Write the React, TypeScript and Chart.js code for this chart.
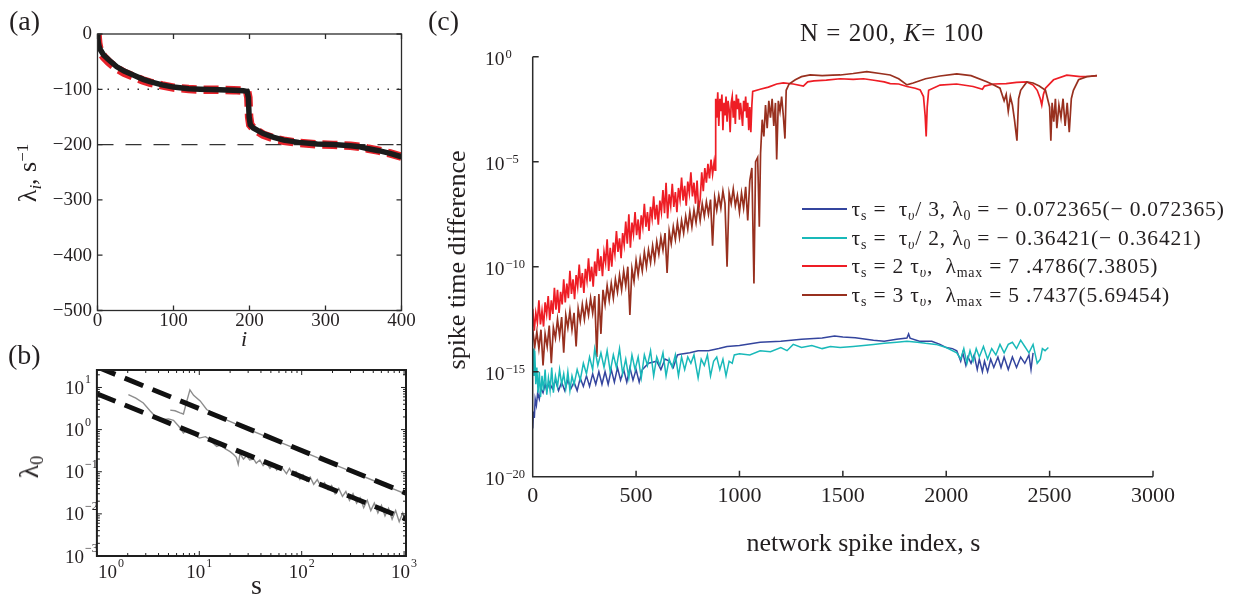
import React, { useEffect, useRef } from "react";
import { Chart, registerables } from "chart.js";
Chart.register(...registerables);

const W = 1237;
const H = 599;
const SERIF = '"Liberation Serif", "Times New Roman", Times, serif';
const INK = "#231f20";

// ---------------- panel (a) : eigenvalues ----------------
const aIndex = [0, 0.5, 1, 2, 4, 8, 15, 25, 35, 47, 60, 69, 85, 100, 120, 135, 160, 179, 192, 197, 198.5, 199.5, 201, 205, 218, 232, 245, 265, 289, 310, 333, 345, 355, 370, 385, 400];
const aNumeric = [0, -8, -15, -22, -29, -38, -47, -59, -67, -74, -82, -86, -92, -96, -99, -100, -101, -101.5, -102.5, -104, -115, -150, -164, -170, -180, -187, -192, -196, -199, -200, -202, -204, -207, -211, -216, -222];
const aTheory = [0, -9, -17, -24, -32, -41, -51, -62, -70, -77, -84, -88, -93, -97, -99.5, -100.5, -101, -101.5, -102.5, -104, -115, -150, -164, -171, -182, -189, -193, -197, -199.5, -200.5, -202, -204, -207, -211, -216, -222];
const aRefX = [0, 400];
const aDotted = [-100, -100];
const aDashed = [-200, -200];
const aXTicks = [0, 100, 200, 300, 400];
const aYTicks = [0, -100, -200, -300, -400, -500];

// ---------------- panel (b) : lambda_0 vs s ----------------
const bUpperS = [5.2, 5.8, 6.5, 7.0, 7.6, 8.1, 8.8, 10.2, 11.8, 14, 17, 21.5, 30, 45, 70, 100, 150, 220, 330, 500, 750, 1044];
const bUpperY = [2.9, 2.8, 2.5, 2.35, 5.0, 8.8, 6.5, 4.8, 3.0, 2.4, 1.85, 1.44, 1.02, 0.68, 0.44, 0.31, 0.205, 0.14, 0.094, 0.062, 0.041, 0.0295];
const bLowerS = [2.03, 2.4, 2.84, 3.3, 3.84, 4.5, 5.0, 5.6, 6.3, 7, 7.5, 8.1, 9, 10, 11.5, 12.7, 14, 14.8, 16, 18, 20, 21.5, 23, 24, 25, 27, 29, 31, 34, 36, 39, 42, 45, 49, 53, 57, 61, 66, 71, 76, 82, 88, 96, 103, 112, 121, 131, 142, 154, 167, 181, 196, 212, 230, 250, 270, 293, 317, 344, 372, 403, 437, 473, 512, 555, 601, 651, 705, 764, 827, 896, 970, 1044];
const bLowerY = [6.8, 5.6, 4.3, 2.8, 1.88, 1.75, 1.8, 1.66, 1.2, 0.83, 0.95, 0.91, 0.75, 0.63, 0.68, 0.58, 0.45, 0.4, 0.43, 0.35, 0.3, 0.26, 0.22, 0.15, 0.27, 0.2, 0.24, 0.19, 0.2, 0.16, 0.19, 0.14, 0.17, 0.12, 0.15, 0.11, 0.135, 0.115, 0.09, 0.12, 0.085, 0.1, 0.066, 0.085, 0.06, 0.075, 0.05, 0.065, 0.045, 0.055, 0.038, 0.047, 0.03, 0.04, 0.026, 0.034, 0.021, 0.03, 0.018, 0.024, 0.014, 0.021, 0.012, 0.018, 0.0105, 0.016, 0.009, 0.0135, 0.0075, 0.012, 0.0065, 0.0105, 0.0062];
const bFitS = [1, 1044];
const bFitUpper = [31, 0.031];
const bFitLower = [7.1, 0.0075];
const bXDecades = [0, 1, 2, 3];
const bYDecades = [-3, -2, -1, 0, 1];

// ---------------- panel (c) : spike time difference (log10 values) ----------------
const redS = [0, 7.5, 15, 22.5, 30, 37.5, 45, 52.5, 60, 67.5, 75, 82.5, 90, 97.5, 105, 112.5, 120, 127.5, 135, 142.5, 150, 157.5, 165, 172.5, 180, 187.5, 195, 202.5, 210, 217.5, 225, 232.5, 240, 247.5, 255, 262.5, 270, 277.5, 285, 292.5, 300, 307.5, 315, 322.5, 330, 337.5, 345, 352.5, 360, 367.5, 375, 382.5, 390, 397.5, 405, 412.5, 420, 427.5, 435, 442.5, 450, 457.5, 465, 472.5, 480, 487.5, 495, 502.5, 510, 517.5, 525, 532.5, 540, 547.5, 555, 562.5, 570, 577.5, 585, 592.5, 600, 607.5, 615, 622.5, 630, 637.5, 645, 652.5, 660, 667.5, 675, 682.5, 690, 697.5, 705, 712.5, 720, 727.5, 735, 742.5, 750, 757.5, 765, 772.5, 780, 787.5, 795, 802.5, 810, 817.5, 825, 832.5, 840, 847.5, 855, 862.5, 870, 877.5, 882,
  885, 890, 895, 900, 905, 910, 915, 920, 925, 930, 935, 940, 945, 950, 955, 960, 965, 970, 975, 980, 985, 990, 995, 1000, 1005, 1010, 1015, 1020, 1025, 1030, 1035, 1040, 1045, 1050, 1055, 1060, 1064,
  1100, 1140, 1180, 1212, 1260, 1309, 1330, 1360, 1420, 1487, 1550, 1600, 1650, 1700, 1729, 1770, 1810, 1850, 1874, 1890, 1898, 1903, 1908, 1915, 1970, 2050, 2130, 2175, 2185, 2230, 2290, 2340, 2390, 2420, 2440, 2455, 2462, 2470, 2480, 2519, 2583, 2648, 2700, 2729];
const redLog = [-12.0, -13.05, -12.2, -12.65, -11.6, -12.75, -12.1, -12.85, -11.7, -12.25, -11.4, -12.55, -11.6, -12.25, -11.0, -12.05, -11.1, -12.2, -11.2, -11.8, -10.6, -11.7, -10.8, -11.5, -10.2, -11.3, -10.6, -11.55, -10.4, -10.95, -9.9, -11.0, -10.3, -11.25, -10.1, -10.65, -9.6, -10.7, -10.0, -10.95, -9.75, -10.45, -9.15, -10.2, -9.5, -10.45, -9.3, -9.8, -8.7, -10.2, -9.1, -10.0, -8.85, -9.4, -8.3, -9.3, -8.65, -9.6, -8.4, -8.95, -7.85, -8.9, -7.5, -9.1, -7.9, -8.45, -7.4, -8.5, -7.75, -8.7, -7.55, -8.1, -7.0, -8.1, -7.4, -8.3, -7.15, -7.7, -6.65, -7.75, -7.05, -8.0, -6.85, -7.4, -6.35, -7.45, -6.0, -7.7, -6.55, -7.1, -6.05, -7.15, -6.45, -7.4, -6.25, -6.8, -5.75, -6.85, -6.15, -7.1, -5.95, -6.5, -5.5, -6.65, -6.0, -7.0, -5.9, -7.3, -6.8, -5.5, -6.4, -5.3, -6.0, -5.1, -5.8, -4.9, -5.6, -5.0, -5.4,
  -2.0, -2.9, -1.7, -3.3, -2.0, -2.6, -1.8, -3.5, -2.2, -2.8, -1.9, -3.1, -2.1, -2.5, -3.6, -2.2, -1.9, -2.9, -2.1, -3.2, -1.8, -2.5, -2.0, -3.0, -2.2, -2.7, -3.3, -2.1, -2.6, -1.9, -2.9, -2.2, -3.5, -2.4, -3.6, -2.3, -1.65,
  -1.55, -1.45, -1.3, -1.25, -1.3, -1.4, -1.2, -1.15, -1.12, -1.05, -1.08, -1.05, -1.12, -1.2, -1.28, -1.3, -1.42, -1.5, -1.58, -1.9, -2.8, -3.8, -2.4, -1.6, -1.35, -1.3, -1.42, -1.55, -1.4, -1.3, -1.28, -1.22, -1.2, -1.35, -1.6, -2.0, -2.3, -1.8, -1.5, -1.1, -0.88, -0.95, -0.93, -0.9];

const brownS = [0, 10, 20, 30, 40, 50, 60, 70, 80, 90, 100, 110, 120, 130, 140, 150, 160, 170, 180, 190, 200, 210, 220, 230, 240, 250, 260, 270, 280, 290, 300, 310, 320, 330, 340, 350, 360, 370, 380, 390, 400, 410, 420, 430, 440, 450, 460, 470, 480, 490, 500, 510, 520, 530, 540, 550, 560, 570, 580, 590, 600, 610, 620, 630, 640, 650, 660, 670, 680, 690, 700, 710, 720, 730, 740, 750, 760, 770, 780, 790, 800, 810, 820, 830, 840, 850, 860, 870, 880, 890, 900, 910, 920, 930, 940, 950, 960, 970, 980, 990, 1000, 1010, 1020, 1030, 1040, 1050, 1060,
  1070, 1078, 1088, 1096, 1102, 1110, 1118, 1126, 1134, 1142, 1150, 1158, 1166, 1174, 1180, 1188, 1196, 1204, 1212, 1220, 1226, 1240, 1270, 1300, 1342, 1400, 1450, 1487, 1550, 1616, 1680, 1729, 1770, 1810, 1840, 1900, 1970, 2051, 2120, 2196, 2230, 2260, 2280, 2290, 2300, 2310, 2320, 2330, 2342, 2350, 2360, 2375, 2390, 2420, 2450, 2480, 2500, 2506, 2512, 2520, 2528, 2535, 2545, 2555, 2565, 2575, 2585, 2595, 2605, 2615, 2640, 2680, 2729];
const brownLog = [-13.0, -13.8, -13.1, -13.9, -13.0, -14.7, -13.2, -13.8, -12.8, -14.6, -12.9, -13.4, -12.5, -13.3, -12.4, -14.1, -12.3, -12.9, -12.1, -13.0, -12.2, -13.8, -12.0, -12.6, -11.8, -12.5, -11.7, -12.3, -11.5, -12.2, -11.4, -14.3, -11.3, -13.2, -11.1, -11.8, -10.9, -11.6, -10.8, -11.5, -10.6, -11.2, -10.4, -11.1, -10.2, -10.9, -10.0, -12.3, -10.1, -10.7, -9.7, -10.4, -9.6, -10.2, -9.3, -10.0, -9.2, -9.8, -9.0, -9.7, -8.8, -9.4, -8.6, -9.2, -8.4, -10.3, -8.3, -8.9, -8.1, -8.7, -7.9, -8.6, -7.8, -8.4, -7.6, -8.2, -7.4, -8.1, -7.3, -7.9, -7.1, -7.8, -7.0, -7.6, -6.9, -7.5, -6.8, -9.0, -6.7, -7.3, -6.6, -7.2, -6.4, -7.0, -10.0, -6.5, -7.0, -6.3, -7.1, -6.6, -7.4, -6.5, -7.2, -6.2, -7.8, -5.9, -5.3,
  -10.8, -5.0, -4.8, -8.1, -4.6, -3.0, -3.8, -2.3, -3.4, -2.1, -2.9, -2.0, -3.3, -2.2, -4.9, -2.1, -2.6, -1.9, -2.8, -3.9, -1.6, -1.3, -1.1, -0.95, -0.87, -0.9, -0.88, -0.87, -0.8, -0.71, -0.8, -0.87, -1.05, -1.34, -1.25, -1.05, -0.92, -0.82, -0.9, -1.19, -1.35, -1.5, -2.1, -1.8, -2.6, -1.9, -2.3, -3.0, -4.0, -2.0, -1.6, -1.4, -1.2, -1.25, -1.4, -1.6, -2.4, -4.0, -2.2, -3.1, -2.0, -3.4, -2.3, -2.9, -2.0, -3.3, -2.2, -3.6, -2.0, -1.6, -1.1, -0.95, -0.9];

const blueS = [0, 4, 8, 12, 18, 24, 32, 40, 50, 60, 68, 80, 95, 110, 125, 140, 155, 170, 185, 200, 215, 230, 245, 260, 275, 290, 305, 320, 335, 350, 365, 380, 395, 410, 425, 440, 455, 470, 485, 500, 515, 530, 560, 600, 620, 640, 660, 680, 700, 713, 760, 800, 850, 900, 940, 1000, 1100, 1200, 1300, 1400, 1460, 1500, 1560, 1648, 1700, 1760, 1810, 1818, 1825, 1870, 1930, 1970, 2000, 2030, 2051, 2070, 2080, 2095, 2105, 2120, 2135, 2150, 2160, 2175, 2185, 2200, 2215, 2230, 2250, 2265, 2280, 2300, 2320, 2340, 2360, 2380, 2400, 2410, 2420];
const blueLog = [-17.7, -16.9, -17.2, -16.3, -16.6, -16.0, -16.3, -15.8, -16.0, -15.6, -15.9, -15.5, -15.8, -15.4, -15.9, -15.5, -15.9, -15.4, -15.8, -15.5, -15.9, -15.3, -15.7, -15.2, -15.7, -15.1, -15.6, -15.0, -15.6, -15.0, -15.6, -14.9, -15.5, -14.8, -15.4, -14.9, -15.5, -14.8, -15.4, -14.9, -15.5, -14.9, -14.6, -14.5, -14.9, -14.4, -14.5, -14.8, -14.2, -14.17, -14.1, -14.0, -14.0, -13.9, -13.8, -13.75, -13.6, -13.55, -13.45, -13.4, -13.3, -13.35, -13.38, -13.5, -13.55, -13.45, -13.4, -13.2, -13.4, -13.55, -13.55, -13.7, -13.85, -13.9, -14.0, -14.5, -14.1, -14.7, -14.3, -14.6, -14.2, -14.9, -14.4, -15.0, -14.5, -15.0, -14.4, -14.8, -14.3, -14.8, -14.3, -14.9, -14.3, -14.8, -14.3, -14.6, -14.2, -14.9, -14.1];

const cyanS = [0, 3, 6, 10, 15, 20, 26, 32, 38, 45, 52, 60, 68, 76, 84, 92, 100, 110, 120, 130, 140, 150, 160, 170, 180, 190, 200, 215, 230, 245, 260, 275, 290, 300, 315, 330, 345, 360, 375, 390, 405, 420, 435, 450, 465, 480, 495, 510, 525, 540, 555, 570, 585, 600, 615, 630, 645, 660, 675, 690, 705, 720, 735, 750, 765, 780, 800, 815, 830, 845, 860, 875, 890, 905, 920, 935, 950, 965, 975, 1000, 1050, 1100, 1150, 1200, 1230, 1260, 1300, 1350, 1400, 1440, 1487, 1550, 1600, 1648, 1700, 1760, 1810, 1860, 1900, 1950, 2000, 2051, 2070, 2085, 2100, 2115, 2130, 2145, 2160, 2180, 2200, 2220, 2240, 2260, 2280, 2300, 2320, 2340, 2360, 2380, 2400, 2420, 2440, 2455, 2465, 2478, 2494];
const cyanLog = [-14.6, -13.9, -15.2, -14.0, -15.6, -14.8, -16.0, -15.0, -16.2, -15.2, -15.9, -14.9, -16.1, -15.3, -15.9, -14.8, -16.0, -15.2, -15.7, -14.9, -15.6, -15.1, -15.8, -15.0, -15.9, -15.2, -15.6, -14.9, -15.4, -14.6, -15.1, -14.3, -14.9, -13.9, -14.7, -14.1, -14.8, -14.0, -15.0, -14.2, -14.8, -13.9, -15.1, -14.4, -15.3, -14.2, -14.9, -14.3, -15.3, -14.2, -14.7, -14.0, -15.2, -14.3, -14.7, -14.1, -15.2, -14.4, -14.8, -14.2, -15.2, -14.3, -14.9, -14.3, -14.6, -14.2, -15.3, -14.4, -14.7, -14.2, -15.2, -14.5, -14.3, -14.9, -14.4, -15.2, -14.5, -14.6, -14.2, -14.15, -14.2, -14.0, -14.05, -13.85, -14.0, -13.7, -13.85, -13.75, -13.9, -13.8, -13.85, -13.8, -13.75, -13.7, -13.65, -13.6, -13.55, -13.6, -13.65, -13.7, -13.85, -14.1, -14.4, -13.9, -14.6, -14.0, -14.5, -13.9, -14.3, -13.8, -14.4, -13.9, -14.2, -13.7, -14.1, -13.7, -13.6, -13.9, -13.5, -13.8, -14.1, -13.7, -14.6, -14.4, -13.9, -14.0, -13.85];

const cXTicks = [0, 500, 1000, 1500, 2000, 2500, 3000];
const cYDecades = [0, -5, -10, -15, -20];

const BLUE = "#34459e";
const CYAN = "#19b9b9";
const RED = "#ee1d25";
const BROWN = "#98301f";

// ---------------- layout ----------------
const AREA_A = { left: 97.5, top: 34, right: 401.5, bottom: 310.5 };
const AREA_B = { left: 96.9, top: 370, right: 406, bottom: 556 };
const AREA_C = { left: 532.7, top: 56.7, right: 1153, bottom: 476.7 };

const pts = (xs: number[], ys: number[], f?: (v: number) => number) =>
  xs.map((x, i) => ({ x, y: f ? f(ys[i]) : ys[i] }));
const pow10 = (v: number) => Math.pow(10, v);
const minus = (v: number) => (v < 0 ? "\u2212" + Math.abs(v) : String(v));

function baseOptions(area: any, xs: any, ys: any) {
  return {
    animation: false,
    responsive: false,
    maintainAspectRatio: false,
    events: [],
    layout: { padding: { left: area.left, top: area.top, right: W - area.right, bottom: H - area.bottom } },
    plugins: { legend: { display: false }, tooltip: { enabled: false }, title: { display: false } },
    scales: { x: { ...xs, display: false }, y: { ...ys, display: false } },
    elements: { point: { radius: 0 }, line: { tension: 0 } },
  };
}

function powLabel(ctx: any, x: number, y: number, exp: string, base: number, sup: number, raise: number, align: string) {
  ctx.font = `${base}px ${SERIF}`;
  const wb = ctx.measureText("10").width;
  ctx.font = `${sup}px ${SERIF}`;
  const we = ctx.measureText(exp).width;
  const total = wb + 1 + we;
  const x0 = align === "left" ? x : align === "center" ? x - total / 2 : x - total;
  ctx.textAlign = "left";
  ctx.textBaseline = "alphabetic";
  ctx.font = `${base}px ${SERIF}`;
  ctx.fillText("10", x0, y);
  ctx.font = `${sup}px ${SERIF}`;
  ctx.fillText(exp, x0 + wb + 1, y - raise);
}

const axesA = {
  id: "axesA",
  afterDatasetsDraw(chart: any) {
    const { ctx, chartArea: a } = chart;
    const x = chart.scales.x;
    const y = chart.scales.y;
    ctx.save();
    ctx.strokeStyle = "#2b2b2b";
    ctx.lineWidth = 1.3;
    ctx.strokeRect(a.left, a.top, a.right - a.left, a.bottom - a.top);
    ctx.beginPath();
    for (const v of aXTicks) {
      const px = x.getPixelForValue(v);
      ctx.moveTo(px, a.bottom); ctx.lineTo(px, a.bottom - 5);
      ctx.moveTo(px, a.top); ctx.lineTo(px, a.top + 5);
    }
    for (const v of aYTicks) {
      const py = y.getPixelForValue(v);
      ctx.moveTo(a.left, py); ctx.lineTo(a.left + 5, py);
      ctx.moveTo(a.right, py); ctx.lineTo(a.right - 5, py);
    }
    ctx.stroke();
    ctx.fillStyle = INK;
    ctx.font = `19px ${SERIF}`;
    ctx.textAlign = "center";
    ctx.textBaseline = "alphabetic";
    for (const v of aXTicks) ctx.fillText(String(v), x.getPixelForValue(v), a.bottom + 15.5);
    ctx.textAlign = "right";
    ctx.textBaseline = "middle";
    for (const v of aYTicks) ctx.fillText(minus(v), a.left - 5.5, y.getPixelForValue(v) + 0.5);
    ctx.restore();
  },
};

const axesB = {
  id: "axesB",
  afterDatasetsDraw(chart: any) {
    const { ctx, chartArea: a } = chart;
    const x = chart.scales.x;
    const y = chart.scales.y;
    ctx.save();
    ctx.strokeStyle = "#1e1e1e";
    ctx.lineWidth = 2;
    ctx.strokeRect(a.left, a.top, a.right - a.left, a.bottom - a.top);
    ctx.lineWidth = 1;
    ctx.beginPath();
    for (const d of bXDecades) {
      const px = x.getPixelForValue(Math.pow(10, d));
      ctx.moveTo(px, a.bottom); ctx.lineTo(px, a.bottom - 5);
      ctx.moveTo(px, a.top); ctx.lineTo(px, a.top + 5);
      if (d < 3) {
        for (let m = 2; m <= 9; m++) {
          const mx = x.getPixelForValue(m * Math.pow(10, d));
          ctx.moveTo(mx, a.bottom); ctx.lineTo(mx, a.bottom - 3);
          ctx.moveTo(mx, a.top); ctx.lineTo(mx, a.top + 3);
        }
      }
    }
    for (const d of bYDecades) {
      const py = y.getPixelForValue(Math.pow(10, d));
      ctx.moveTo(a.left, py); ctx.lineTo(a.left + 5, py);
      ctx.moveTo(a.right, py); ctx.lineTo(a.right - 5, py);
      for (let m = 2; m <= 9; m++) {
        const v = m * Math.pow(10, d);
        if (v > 26) continue;
        const my = y.getPixelForValue(v);
        ctx.moveTo(a.left, my); ctx.lineTo(a.left + 3, my);
        ctx.moveTo(a.right, my); ctx.lineTo(a.right - 3, my);
      }
    }
    ctx.stroke();
    ctx.fillStyle = INK;
    for (const d of bXDecades) {
      const px = Math.max(x.getPixelForValue(Math.pow(10, d)), a.left + 14);
      powLabel(ctx, px, a.bottom + 22, String(d), 19, 12, 11, "center");
    }
    for (const d of bYDecades) {
      const py = y.getPixelForValue(Math.pow(10, d));
      powLabel(ctx, 65, py + 6.5, minus(d), 19, 12, 10.5, "left");
    }
    ctx.restore();
  },
};

const axesC = {
  id: "axesC",
  afterDatasetsDraw(chart: any) {
    const { ctx, chartArea: a } = chart;
    const x = chart.scales.x;
    const y = chart.scales.y;
    ctx.save();
    ctx.strokeStyle = "#2b2b2b";
    ctx.lineWidth = 1.5;
    ctx.beginPath();
    ctx.moveTo(a.left, a.top);
    ctx.lineTo(a.left, a.bottom);
    ctx.lineTo(a.right, a.bottom);
    for (const v of cXTicks) {
      const px = x.getPixelForValue(v);
      ctx.moveTo(px, a.bottom); ctx.lineTo(px, a.bottom - 6);
    }
    for (const d of cYDecades) {
      const py = y.getPixelForValue(Math.pow(10, d));
      ctx.moveTo(a.left, py); ctx.lineTo(a.left + 6, py);
    }
    ctx.stroke();
    ctx.fillStyle = INK;
    ctx.font = `22px ${SERIF}`;
    ctx.textAlign = "center";
    ctx.textBaseline = "alphabetic";
    for (const v of cXTicks) ctx.fillText(String(v), x.getPixelForValue(v), a.bottom + 25.5);
    for (const d of cYDecades) {
      const py = y.getPixelForValue(Math.pow(10, d));
      powLabel(ctx, 485, py + 8, minus(d), 19.5, 12.5, 6.5, "left");
    }
    ctx.restore();
  },
};

const subStyle: any = { fontSize: "0.65em", verticalAlign: "-0.3em", lineHeight: 0 };
const supStyle: any = { fontSize: "0.65em", verticalAlign: "0.5em", lineHeight: 0 };
const Sub = ({ children }: any) => <span style={subStyle}>{children}</span>;
const Sup = ({ children }: any) => <span style={supStyle}>{children}</span>;

function Txt({ x, y, size, center = false, italic = false, spacing = 0, children }: any) {
  const style: any = {
    position: "absolute",
    left: x,
    top: y - 0.8375 * size,
    fontSize: size,
    lineHeight: `${size}px`,
    fontFamily: SERIF,
    color: INK,
    whiteSpace: "pre",
    letterSpacing: spacing,
    fontStyle: italic ? "italic" : "normal",
  };
  if (center) style.transform = "translateX(-50%)";
  return <div style={style}>{children}</div>;
}

function Rot({ cx, cy, size, children }: any) {
  return (
    <div
      style={{
        position: "absolute",
        left: cx,
        top: cy,
        transform: "translate(-50%,-50%) rotate(-90deg)",
        fontSize: size,
        lineHeight: `${size}px`,
        fontFamily: SERIF,
        color: INK,
        whiteSpace: "pre",
      }}
    >
      {children}
    </div>
  );
}

const legendRows = [
  { color: BLUE, y: 209.3, text: <>τ<Sub>s</Sub> =  τ<Sub><i>υ</i></Sub>/ 3, λ<Sub>0</Sub> = − 0.072365(− 0.072365)</> },
  { color: CYAN, y: 237.7, text: <>τ<Sub>s</Sub> =  τ<Sub><i>υ</i></Sub>/ 2, λ<Sub>0</Sub> = − 0.36421(− 0.36421)</> },
  { color: RED, y: 266, text: <>τ<Sub>s</Sub> = 2 τ<Sub><i>υ</i></Sub>,  λ<Sub>max</Sub> = 7 .4786(7.3805)</> },
  { color: BROWN, y: 295, text: <>τ<Sub>s</Sub> = 3 τ<Sub><i>υ</i></Sub>,  λ<Sub>max</Sub> = 5 .7437(5.69454)</> },
];

export default function App() {
  const refA = useRef<HTMLCanvasElement>(null);
  const refB = useRef<HTMLCanvasElement>(null);
  const refC = useRef<HTMLCanvasElement>(null);

  useEffect(() => {
    const charts: any[] = [];
    charts.push(
      new Chart(refA.current as any, {
        type: "line",
        data: {
          datasets: [
            { data: pts(aIndex, aNumeric), borderColor: "#1b1b1b", borderWidth: 5.5, order: 1, fill: false },
            { data: pts(aIndex, aTheory), borderColor: "#e8222a", borderWidth: 8.5, borderDash: [15, 7], order: 2, fill: false },
            { data: pts(aRefX, aDotted), borderColor: "#333", borderWidth: 1.4, borderDash: [1.5, 8.5], order: 3, fill: false },
            { data: pts(aRefX, aDashed), borderColor: "#333", borderWidth: 1.3, borderDash: [16, 12], order: 4, fill: false },
          ],
        },
        options: baseOptions(AREA_A, { type: "linear", min: 0, max: 400 }, { type: "linear", min: -500, max: 0 }) as any,
        plugins: [axesA],
      })
    );
    charts.push(
      new Chart(refB.current as any, {
        type: "line",
        data: {
          datasets: [
            { data: pts(bFitS, bFitUpper), borderColor: "#111", borderWidth: 5, borderDash: [20, 10], order: 1, fill: false },
            { data: pts(bFitS, bFitLower), borderColor: "#111", borderWidth: 5, borderDash: [20, 10], order: 2, fill: false },
            { data: pts(bUpperS, bUpperY), borderColor: "#8d8d8d", borderWidth: 1.4, order: 3, fill: false },
            { data: pts(bLowerS, bLowerY), borderColor: "#8d8d8d", borderWidth: 1.4, order: 4, fill: false },
          ],
        },
        options: baseOptions(AREA_B, { type: "logarithmic", min: 1, max: 1044 }, { type: "logarithmic", min: 0.001, max: 26 }) as any,
        plugins: [axesB],
      })
    );
    charts.push(
      new Chart(refC.current as any, {
        type: "line",
        data: {
          datasets: [
            { data: pts(blueS, blueLog, pow10), borderColor: BLUE, borderWidth: 1.5, order: 2, fill: false },
            { data: pts(cyanS, cyanLog, pow10), borderColor: CYAN, borderWidth: 1.5, order: 1, fill: false },
            { data: pts(redS, redLog, pow10), borderColor: RED, borderWidth: 1.7, order: 4, fill: false },
            { data: pts(brownS, brownLog, pow10), borderColor: BROWN, borderWidth: 1.7, order: 3, fill: false },
          ],
        },
        options: baseOptions(AREA_C, { type: "linear", min: 0, max: 3000 }, { type: "logarithmic", min: 1e-20, max: 1 }) as any,
        plugins: [axesC],
      })
    );
    return () => charts.forEach((c) => c.destroy());
  }, []);

  const cv: any = { position: "absolute", left: 0, top: 0, width: W, height: H };

  return (
    <div style={{ position: "fixed", left: 0, top: 0, width: W, height: H, background: "#fff", overflow: "hidden", fontFamily: SERIF }}>
      <canvas ref={refA} width={W} height={H} style={cv} />
      <canvas ref={refB} width={W} height={H} style={cv} />
      <canvas ref={refC} width={W} height={H} style={cv} />

      <Txt x={9} y={30} size={28}>(a)</Txt>
      <Txt x={8} y={364} size={28}>(b)</Txt>
      <Txt x={428} y={30} size={28}>(c)</Txt>

      <Txt x={244} y={346} size={22} center italic>i</Txt>
      <Rot cx={28} cy={173} size={26}>λ<Sub><i>i</i></Sub>, s<Sup>−1</Sup></Rot>

      <Txt x={256.5} y={594} size={28} center>s</Txt>
      <Rot cx={29} cy={467} size={28}>λ<Sub>0</Sub></Rot>

      <Txt x={800} y={41} size={25} spacing={1}>N = 200, <i>K</i>= 100</Txt>
      <Rot cx={457} cy={260} size={26}>spike time difference</Rot>
      <Txt x={863.5} y={552} size={26} center>network spike index, s</Txt>

      {legendRows.map((r, i) => (
        <div
          key={i}
          style={{
            position: "absolute",
            left: 801.5,
            top: r.y - 12,
            height: 24,
            display: "flex",
            alignItems: "center",
            fontSize: 21.5,
            letterSpacing: 0.8,
            lineHeight: "24px",
            fontFamily: SERIF,
            color: INK,
            whiteSpace: "pre",
          }}
        >
          <span style={{ display: "inline-block", width: 45, height: 2, background: r.color, marginRight: 5 }} />
          <span>{r.text}</span>
        </div>
      ))}
    </div>
  );
}
